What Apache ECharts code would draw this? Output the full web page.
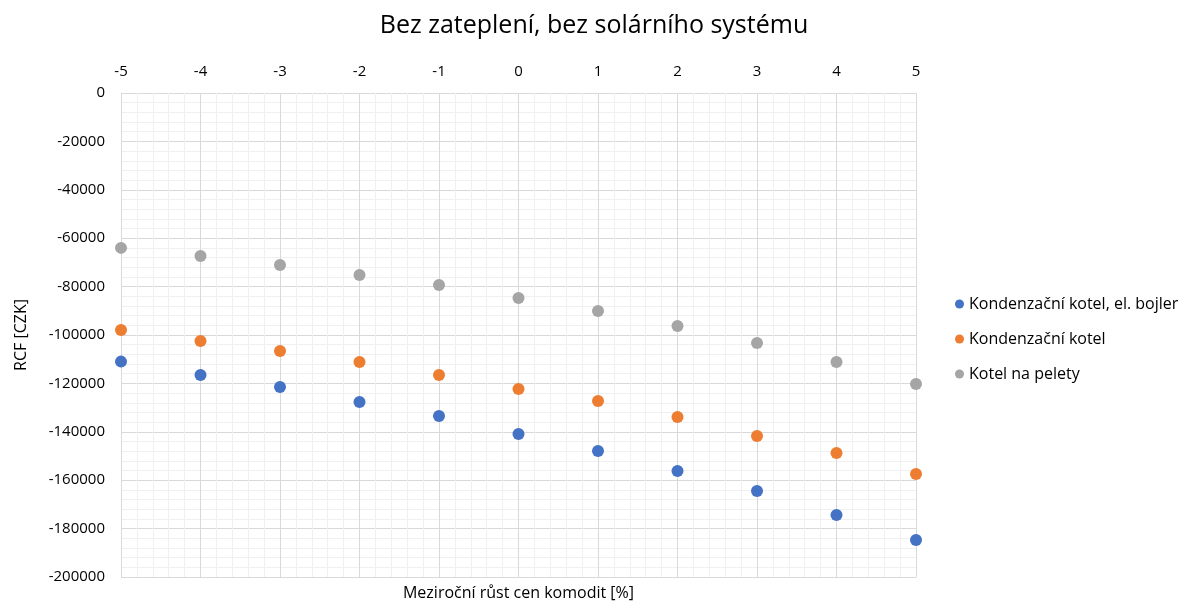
<!DOCTYPE html>
<html>
<head>
<meta charset="utf-8">
<script src="https://cdn.jsdelivr.net/npm/echarts@6/dist/echarts.min.js"></script>
<style>
  html, body { margin: 0; padding: 0; background: #fff; }
  #chart { width: 1188px; height: 605px; }
</style>
</head>
<body>
<div id="chart"></div>
<script>
// meziroční růst cen [%]
const growth = [-5, -4, -3, -2, -1, 0, 1, 2, 3, 4, 5];
const kotelBojler = [-111000, -116500, -121500, -127700, -133500, -140900, -147900, -156200, -164500, -174400, -184700];
const kotel = [-97900, -102500, -106600, -111200, -116500, -122300, -127300, -133900, -141700, -148800, -157400];
const pelety = [-64000, -67400, -71100, -75200, -79300, -84700, -90100, -96300, -103300, -111200, -120200];

const seriesNames = ['Kondenzační kotel, el. bojler', 'Kondenzační kotel', 'Kotel na pelety'];
const colors = ['#4472C4', '#ED7D31', '#A5A5A5'];
const font = '"Open Sans", "Noto Sans", sans-serif';

function pairs(vals) {
  return growth.map((g, i) => [g, vals[i]]);
}

let myChart = echarts.init(document.getElementById('chart'));

let option = {
  animation: false,
  color: colors,
  textStyle: { fontFamily: font },
  title: {
    text: 'Bez zateplení, bez solárního systému',
    left: 'center',
    top: 8,
    textStyle: { fontFamily: font, fontSize: 25, fontWeight: 'normal', color: '#000' }
  },
  legend: {
    orient: 'vertical',
    left: 950,
    top: 291,
    itemGap: 19,
    icon: 'circle',
    itemWidth: 9,
    itemHeight: 9,
    textStyle: { fontFamily: font, fontSize: 16, color: '#000' },
    data: seriesNames
  },
  grid: { left: 121, right: 272, top: 93, bottom: 28, outerBoundsMode: 'none' },
  xAxis: [{
    type: 'value',
    position: 'top',
    min: -5,
    max: 5,
    interval: 1,
    axisLine: { show: false },
    axisTick: { show: false },
    axisLabel: { color: '#000', fontSize: 15, margin: 14, fontFamily: font },
    splitLine: { show: true, lineStyle: { color: '#d9d9d9', width: 1 } },
    minorTick: { show: false, splitNumber: 5 },
    minorSplitLine: { show: true, lineStyle: { color: '#f0f0f0', width: 1 } }
  }, {
    type: 'value',
    position: 'bottom',
    min: -5,
    max: 5,
    name: 'Meziroční růst cen komodit [%]',
    nameLocation: 'middle',
    nameGap: 8,
    nameTextStyle: { color: '#000', fontSize: 16, fontFamily: font },
    axisLine: { show: false },
    axisTick: { show: false },
    axisLabel: { show: false },
    splitLine: { show: false }
  }],
  yAxis: {
    type: 'value',
    min: -200000,
    max: 0,
    interval: 20000,
    name: 'RCF [CZK]',
    nameLocation: 'middle',
    nameGap: 92,
    nameTextStyle: { color: '#000', fontSize: 16, fontFamily: font },
    axisLine: { show: false },
    axisTick: { show: false },
    axisLabel: { color: '#000', fontSize: 15, margin: 16, fontFamily: font, formatter: v => String(v) },
    splitLine: { show: true, lineStyle: { color: '#d9d9d9', width: 1 } },
    minorTick: { show: false, splitNumber: 5 },
    minorSplitLine: { show: true, lineStyle: { color: '#f0f0f0', width: 1 } }
  },
  series: [kotelBojler, kotel, pelety].map((vals, i) => ({
    name: seriesNames[i],
    type: 'scatter',
    symbol: 'circle',
    symbolSize: 12,
    itemStyle: { opacity: 1 },
    data: pairs(vals)
  }))
};

myChart.setOption(option);
</script>
</body>
</html>
